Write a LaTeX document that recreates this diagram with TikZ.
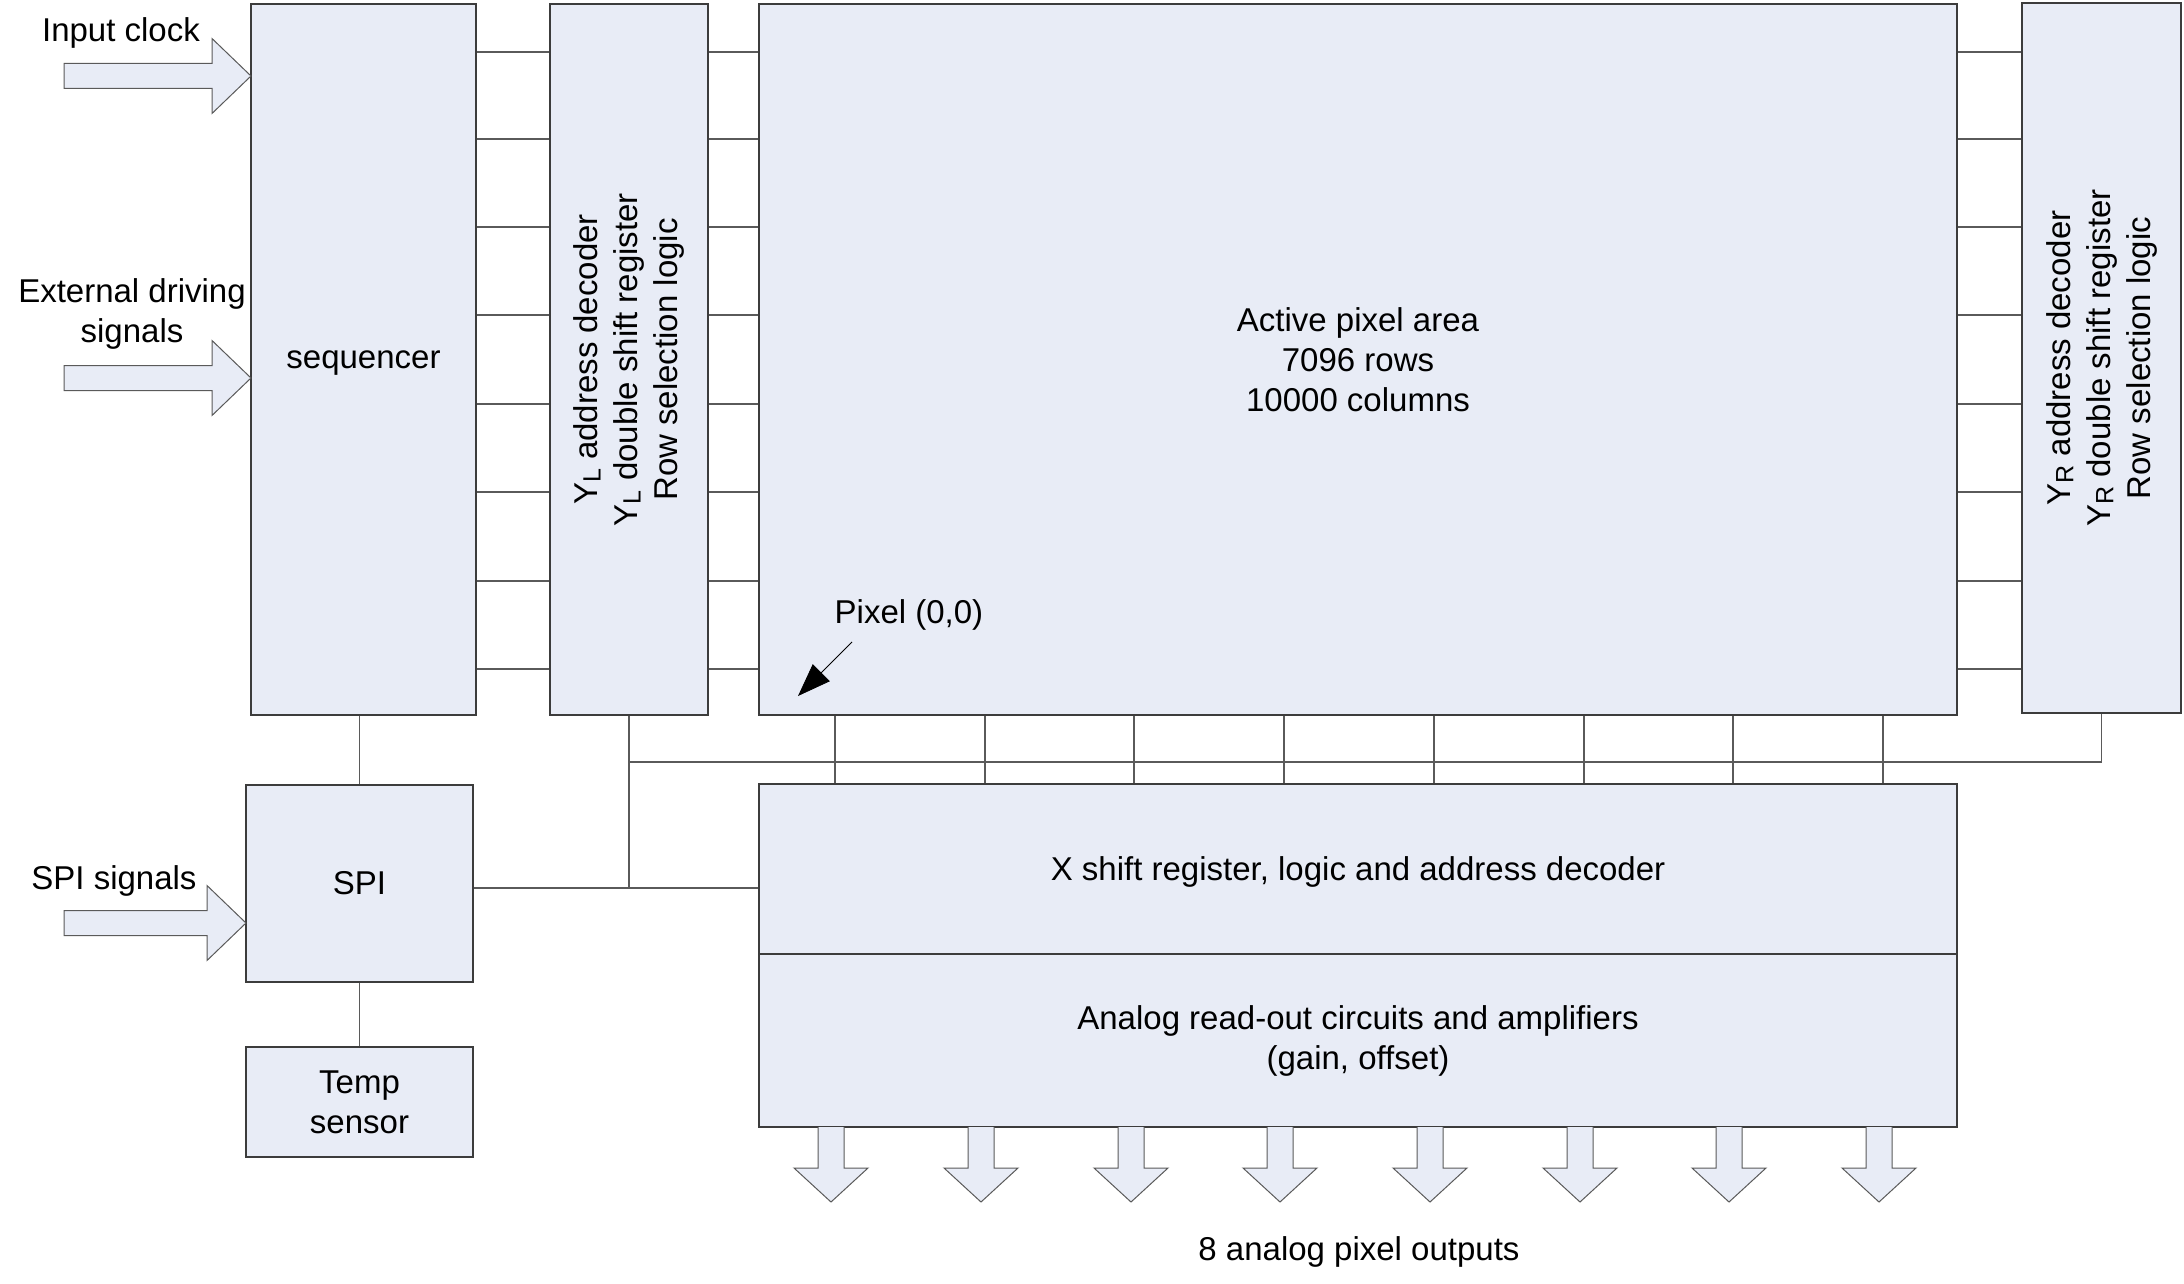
\documentclass[tikz,border=0pt]{standalone}
\usepackage{fontspec}
\setmainfont{Liberation Sans}
\usetikzlibrary{arrows.meta,calc}
\definecolor{boxfill}{RGB}{232,236,246}
\definecolor{boxline}{RGB}{60,60,60}
\definecolor{wire}{RGB}{90,90,90}
\newcommand{\mysub}[1]{{\fontsize{12.5}{12.5}\selectfont\raisebox{-1.6pt}{#1}}}
\begin{document}
\begin{tikzpicture}[x=0.5pt,y=-0.5pt,
  box/.style={draw=boxline, fill=boxfill, line width=0.8pt, inner sep=0pt, align=center,
    font=\fontsize{16.5}{20}\selectfont},
  onel/.style={text depth=0pt},
  wireline/.style={draw=wire, line width=0.6pt},
  blockarrow/.style={draw=wire, fill=boxfill, line width=0.5pt, line join=miter},
  lbl/.style={font=\fontsize{16.5}{20}\selectfont, align=center, inner sep=0pt}]
\useasboundingbox (0,0) rectangle (2184,1284);

% blocks
\node[box, onel, minimum width=112.5pt, minimum height=355.5pt] (seq) at (363.5,359.5) {sequencer};
\node[box, minimum width=79pt, minimum height=355.5pt] (yl) at (629,359.5) {};
\node[rotate=90, lbl] (yltext) at (yl.center) {Y\mysub{L} address decoder\\Y\mysub{L} double shift register\\Row selection logic};
\node[box, minimum width=599pt, minimum height=355.5pt] (act) at (1358,359.5) {Active pixel area\\7096 rows\\10000 columns};
\node[box, minimum width=79.5pt, minimum height=355pt] (yr) at (2101.5,358) {};
\node[rotate=90, lbl] (yrtext) at (yr.center) {Y\mysub{R} address decoder\\Y\mysub{R} double shift register\\Row selection logic};
\node[box, minimum width=113.5pt, minimum height=98.5pt] (spi) at (359.5,883.5) {SPI};
\node[box, minimum width=113.5pt, minimum height=55pt] (temp) at (359.5,1102) {Temp\\sensor};
\node[box, onel, minimum width=599pt, minimum height=85pt] (xs) at (1358,869) {X shift register, logic and address decoder};
\node[box, minimum width=599pt, minimum height=86.5pt] (ana) at (1358,1040.5) {Analog read-out circuits and amplifiers\\(gain, offset)};

% row wires
\foreach \y in {52,139,227,315,404,492,581,669}{
  \coordinate (h) at (0,\y);
  \draw[wireline] (seq.east |- h) -- (yl.west |- h);
  \draw[wireline] (yl.east |- h) -- (act.west |- h);
  \draw[wireline] (act.east |- h) -- (yr.west |- h);
}

% column wires
\foreach \x in {835,985,1134,1284,1434,1584,1733,1883}{
  \coordinate (v) at (\x,0);
  \draw[wireline] (act.south -| v) -- (xs.north -| v);
}

% bus
\coordinate (busy) at (0,762);
\coordinate (spiy) at (0,888);
\draw[wireline] (yl.south) -- (yl.south |- spiy);
\draw[wireline] (yl.south |- busy) -- (yr.south |- busy) -- (yr.south);
\draw[wireline] (spi.east |- spiy) -- (xs.west |- spiy);
\draw[wireline] (spi.north) -- (spi.north |- seq.south);
\draw[wireline] (spi.south) -- (temp.north);

% input block arrows
\foreach \c in {76,378}{
  \draw[blockarrow] (64,\c-12.5) -- (212,\c-12.5) -- (212,\c-37.5) -- (251,\c) -- (212,\c+37.5) -- (212,\c+12.5) -- (64,\c+12.5) -- cycle;
}
\draw[blockarrow] (64,910.5) -- (207,910.5) -- (207,885.5) -- (246,923) -- (207,960.5) -- (207,935.5) -- (64,935.5) -- cycle;

% output block arrows
\foreach \x in {831,981,1131,1280,1430,1580,1729,1879}{
  \draw[blockarrow] (\x-13,1127) -- (\x-13,1168) -- (\x-37,1168) -- (\x,1202) -- (\x+37,1168) -- (\x+13,1168) -- (\x+13,1127);
}

% labels
\node[lbl] (lclk) at (121,33) {Input clock};
\node[lbl] (lext) at (132,314) {External driving\\signals};
\node[lbl] (lspi) at (114,881) {SPI signals};
\node[lbl] (lout) at (1359,1252) {8 analog pixel outputs};
\node[lbl] (lpix) at (909,615) {Pixel (0,0)};
\coordinate (pxtip) at (798,696);
\coordinate (pxtail) at (852,642);
\draw[line width=0.4pt, -{Triangle[length=16.5pt,width=12pt]}] (pxtail) -- (pxtip);
\end{tikzpicture}
\end{document}
